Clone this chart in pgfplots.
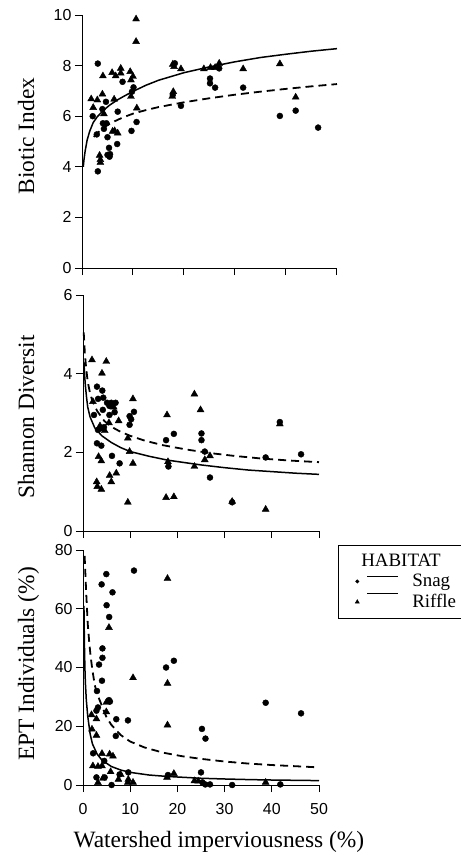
\documentclass[border=0pt]{standalone}
\usepackage{fontspec}
\setmainfont{Liberation Serif}
\setsansfont{Liberation Sans}
\usepackage{pgfplots}
\pgfplotsset{compat=1.18}
\pgfplotsset{
 panel/.style={
  scale only axis, anchor=south west,
  axis x line*=bottom, axis y line*=left,
  tick align=outside, major tick length=7bp,
  xmin=0, xmax=50, xtick={0,10,20,30,40,50},
  axis line style={line width=1bp, black},
  tick style={line width=1bp, black},
  ticklabel style={font=\fontsize{16}{16}\selectfont\sffamily},
  xticklabel style={yshift=-8bp},
  /pgf/number format/assume math mode=true,
  clip=false,
  label style={font=\fontsize{23.5}{26}\selectfont},
 },
 snag/.style={only marks, mark=*, mark size=3bp, black},
 riffle/.style={only marks, mark=triangle*, mark size=4bp, black},
 fitA/.style={black, line width=1.5bp, no marks},
 fitB/.style={black, line width=1.8bp, dash pattern=on 8bp off 5bp, no marks},
}
\begin{document}
\begin{tikzpicture}
\path[use as bounding box] (0bp,0bp) rectangle (461bp,-855bp);
% ---------------- Panel 1: Biotic Index
\begin{axis}[panel, at={(82bp,-268bp)}, width=255bp, height=253bp,
  ymin=0, ymax=10, ytick={0,2,4,6,8,10}, xticklabels={},
  ylabel={Biotic Index},
  ylabel style={at={(axis description cs:-0.188,0.522)}, anchor=base, inner sep=0pt}]
\addplot[snag] coordinates {
(3.1,8.08) (2.1,6.0) (4.0,6.28) (4.7,6.57) (7.0,6.18) (7.95,7.36) (10.1,7.14) (9.8,6.97)
(9.7,5.42) (10.7,5.77) (4.1,5.72) (4.8,5.72) (4.3,5.5) (2.9,5.28) (5.0,5.17) (6.9,4.9)
(5.3,4.75) (5.5,4.5) (5.4,4.4) (5.0,4.47) (3.1,3.82) (18.2,8.09) (17.8,6.84) (19.4,6.41)
(26.9,7.89) (25.1,7.49) (25.1,7.3) (26.1,7.13) (31.6,7.13) (38.8,6.01) (41.9,6.22) (46.3,5.55)};
\addplot[riffle] coordinates {
(1.8,6.68) (3.0,6.64) (4.1,7.59) (4.0,6.87) (2.2,6.34) (6.3,6.67) (5.9,7.72) (6.6,7.59)
(7.6,7.89) (7.6,7.7) (9.45,7.76) (10.0,7.57) (9.6,7.43) (9.6,6.78) (10.75,6.32) (10.6,9.84)
(10.6,8.95) (6.4,5.42) (7.0,5.33) (6.0,5.4) (3.45,4.45) (3.6,4.28) (3.6,4.17) (4.3,6.09)
(17.8,8.05) (18.05,7.96) (19.4,7.87) (17.9,6.97) (17.7,6.78) (23.9,7.87) (25.2,7.92)
(26.1,7.92) (26.9,8.09) (31.6,7.87) (38.8,8.07) (41.9,6.75)};
\addplot[fitA] coordinates {
(0.25,4.0) (0.4,4.3) (0.6,4.6) (1,5.05) (1.5,5.4) (2.2,5.75) (3,5.98) (4.3,6.25) (5.5,6.45)
(7,6.65) (8.5,6.82) (10,6.98) (12.5,7.22) (15,7.42) (20,7.72) (25,7.95) (30,8.15) (35,8.32)
(40,8.45) (45,8.57) (50,8.67)};
\addplot[fitB] coordinates {
(2.3,5.18) (3,5.33) (4,5.5) (5,5.65) (6.4,5.8) (8,5.95) (10,6.1) (12.5,6.24) (15,6.36)
(20,6.55) (25,6.71) (30,6.85) (35,6.97) (40,7.08) (45,7.18) (50,7.27)};
\end{axis}
% ---------------- Panel 2: Shannon
\begin{axis}[panel, at={(83bp,-531bp)}, width=236bp, height=236bp,
  ymin=0, ymax=6, ytick={0,2,4,6}, xticklabels={},
  ylabel={Shannon Diversit},
  ylabel style={at={(axis description cs:-0.2076,0.484)}, anchor=base, inner sep=0pt}]
\addplot[snag] coordinates {
(2.96,3.67) (4.09,3.57) (3.2,3.36) (4.3,3.39) (5.1,3.26) (6.0,3.26) (6.9,3.26) (5.6,3.18)
(4.2,3.08) (5.6,2.95) (2.33,2.95) (6.7,3.02) (9.87,2.92) (10.8,3.03) (9.87,2.7) (10.2,2.84)
(3.74,2.61) (3.17,2.57) (4.44,2.64) (2.96,2.23) (3.88,2.17) (6.14,1.91) (7.76,1.72)
(19.25,2.47) (17.6,2.31) (18.1,1.64) (25.1,2.48) (25.1,2.31) (25.8,2.02) (26.9,1.36)
(38.7,1.87) (46.2,1.95) (41.7,2.77) (31.6,0.73)};
\addplot[riffle] coordinates {
(1.9,4.35) (4.93,4.31) (4.02,4.01) (10.58,3.36) (23.6,3.48) (24.9,3.08) (17.8,2.95)
(2.1,3.29) (7.55,2.8) (9.5,2.36) (9.87,2.02) (3.3,1.89) (3.88,1.78) (10.58,1.72) (18.0,1.76)
(23.6,1.64) (7.05,1.47) (5.64,1.41) (5.99,1.25) (2.9,1.25) (3.03,1.13) (3.88,1.06) (9.5,0.73)
(17.6,0.85) (19.25,0.87) (25.8,1.81) (26.9,1.91) (38.7,0.55) (41.7,2.72) (31.6,0.75)
(5.5,2.75) (4.6,2.55) (3.6,2.67) (6.5,3.15)};
\addplot[fitA] coordinates {
(0.2,4.3) (0.35,3.95) (0.5,3.7) (0.75,3.4) (1,3.15) (1.5,2.9) (2.5,2.62) (4,2.42) (6,2.25)
(8,2.12) (10,2.02) (14,1.9) (18,1.8) (25,1.68) (30,1.61) (35,1.55) (40,1.51) (45,1.47) (50,1.44)};
\addplot[fitB] coordinates {
(0.15,5.05) (0.4,4.5) (0.7,4.1) (1,3.8) (1.5,3.5) (2,3.3) (3,3.05) (4.5,2.8) (6,2.65)
(8,2.52) (10,2.42) (13,2.3) (17,2.18) (22,2.07) (27,1.98) (32,1.91) (38,1.84) (44,1.79) (50,1.75)};
\end{axis}
% ---------------- Panel 3: EPT
\begin{axis}[panel, at={(83bp,-785bp)}, width=236bp, height=235bp,
  ymin=0, ymax=80, ytick={0,20,40,60,80},
  ylabel={EPT Individuals (\%)},
  ylabel style={at={(axis description cs:-0.2076,0.515)}, anchor=base, inner sep=0pt},
  xlabel={Watershed imperviousness (\%)},
  xlabel style={at={(axis description cs:0.576,-0.268)}, anchor=base, inner sep=0pt},
  legend style={at={(axis description cs:1.08,1.021)}, anchor=north west, draw=black,
    line width=0.8bp, font=\fontsize{19}{21}\selectfont, row sep=2bp,
    inner xsep=3bp, inner ysep=7bp},
  legend cell align=left]
\addplot[snag, forget plot] coordinates {
(4.94,71.8) (10.8,73.0) (3.95,68.3) (6.25,65.6) (5.0,61.2) (5.55,57.2) (4.12,46.5) (4.12,43.3)
(3.4,41.0) (4.02,35.5) (17.6,40.0) (19.25,42.3) (2.96,32.0) (5.5,28.9) (5.7,28.4) (3.17,26.4)
(2.85,25.3) (7.05,22.4) (9.52,22.0) (6.95,16.7) (25.2,19.1) (25.95,15.8) (38.7,28.0)
(46.2,24.4) (2.15,10.8) (4.5,8.2) (2.85,2.6) (4.58,2.6) (6.05,0) (7.76,3.6) (9.6,4.3)
(18.0,3.4) (25.0,4.3) (25.3,0.9) (25.9,0.2) (26.9,0.2) (31.6,0) (41.8,0.2)};
\addplot[riffle, forget plot] coordinates {
(5.5,53.6) (17.9,70.3) (10.6,36.5) (17.9,34.6) (4.94,28.1) (4.94,24.9) (1.8,23.9) (2.85,22.5)
(17.9,20.4) (1.9,19.0) (2.85,16.9) (4.02,10.7) (5.64,10.5) (6.35,9.8) (2.1,6.5) (3.17,6.3)
(4.02,6.5) (5.85,4.5) (3.17,0.8) (4.23,2.3) (7.5,1.9) (8.0,3.5) (9.6,1.9) (9.5,0.9) (10.6,0.9)
(17.8,2.6) (19.25,3.9) (23.6,1.4) (24.4,1.3) (38.7,0.9)};
\addplot[fitA, forget plot] coordinates {
(0.2,61) (0.3,48) (0.4,40) (0.5,35) (0.7,29) (1,23.5) (1.5,17.5) (2,14) (3,10.5) (4,8.5)
(6,6.3) (8,5.1) (10,4.3) (14,3.4) (18,2.9) (25,2.3) (30,2.05) (35,1.85) (40,1.7) (45,1.6) (50,1.5)};
\addplot[fitB, forget plot] coordinates {
(0.35,78) (0.5,72) (0.7,64.7) (1,55) (1.3,49) (1.6,44) (2,39) (2.5,34) (3,31) (4,27) (5,23)
(6,20.5) (8,17) (10,14.8) (13,12.8) (17,11) (21,9.8) (25,8.9) (30,8.0) (35,7.3) (40,6.8)
(45,6.4) (50,6.0)};
\addlegendimage{empty legend}
\addlegendentry{\hspace*{-51bp}HABITAT}
\addlegendimage{legend image code/.code={
  \path[draw=none, fill=none] (0bp,0bp) -- (69bp,0bp);
  \fill[black] (16bp,0bp) circle (1.5bp);
  \draw[black, line width=0.6bp] (26bp,5bp) -- (57bp,5bp);}}
\addlegendentry{Snag}
\addlegendimage{legend image code/.code={
  \path[draw=none, fill=none] (0bp,0bp) -- (69bp,0bp);
  \fill[black] (14.2bp,-1.2bp) -- (17.8bp,-1.2bp) -- (16bp,1.9bp) -- cycle;
  \draw[black, line width=1bp] (26bp,8bp) -- (57bp,8bp);}}
\addlegendentry{Riffle}
\end{axis}
\end{tikzpicture}
\end{document}
